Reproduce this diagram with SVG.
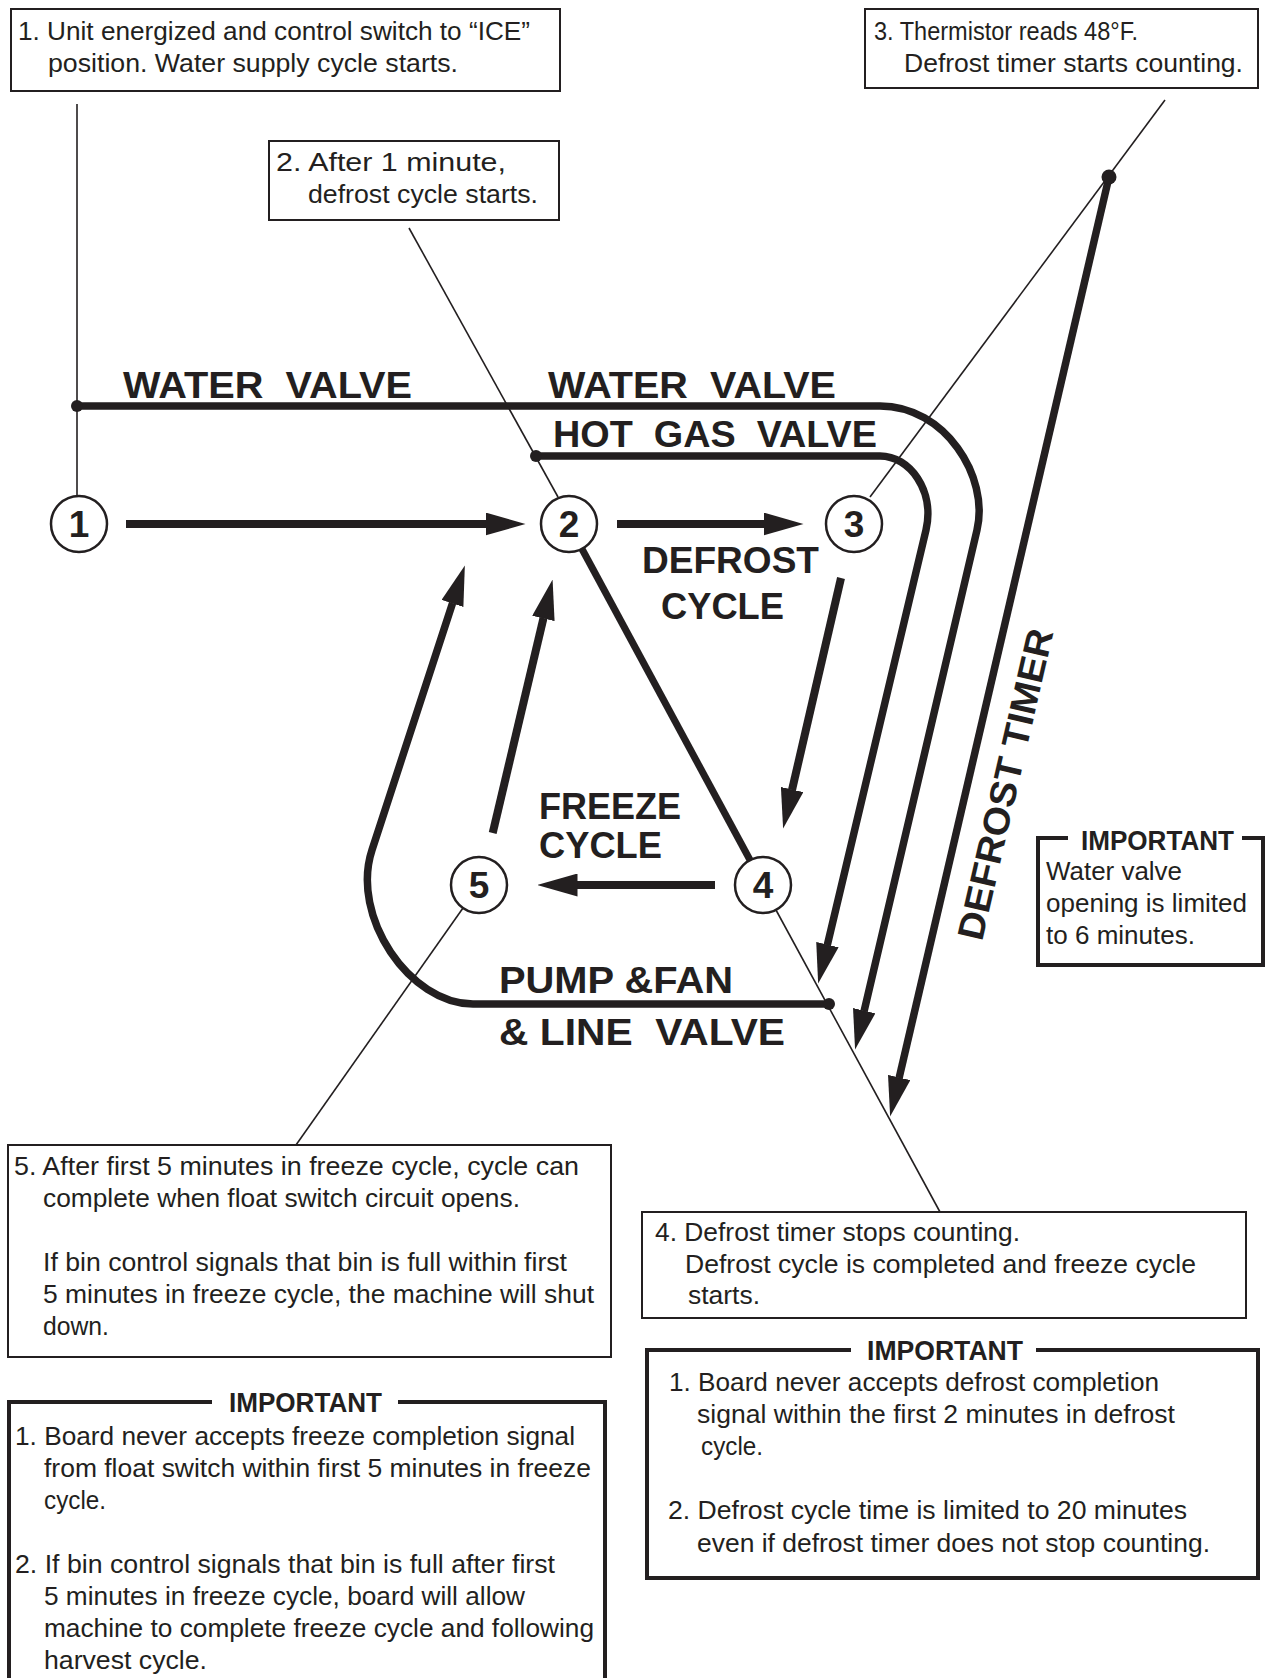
<svg xmlns="http://www.w3.org/2000/svg" width="1267" height="1678" viewBox="0 0 1267 1678">
<style>
.bg{fill:#ffffff}
.box{fill:#ffffff;stroke:#231f20;stroke-width:2}
.imp{fill:none;stroke:#231f20;stroke-width:4}
.t{font-family:"Liberation Sans",Arial,sans-serif;font-size:25px;fill:#231f20}
.b{font-family:"Liberation Sans",Arial,sans-serif;font-weight:bold;font-size:37px;fill:#231f20}
.h{font-family:"Liberation Sans",Arial,sans-serif;font-weight:bold;font-size:27px;fill:#231f20}
.num{font-family:"Liberation Sans",Arial,sans-serif;font-weight:bold;font-size:37px;fill:#231f20;text-anchor:middle}
.circ{fill:#ffffff;stroke:#231f20;stroke-width:2.5}
.thin{fill:none;stroke:#231f20;stroke-width:1.6}
.arr{fill:none;stroke:#231f20;stroke-width:8;marker-end:url(#ah)}
.arrl{fill:none;stroke:#231f20;stroke-width:7.5;marker-end:url(#ah)}
.dot{fill:#231f20}
</style>
<defs>
<marker id="ah" viewBox="0 0 40 23" refX="0.5" refY="11.5" markerWidth="40" markerHeight="23" markerUnits="userSpaceOnUse" orient="auto">
<path d="M0,0 L40,11.5 L0,23 Z" fill="#231f20"/>
</marker>
</defs>
<rect class="bg" x="0" y="0" width="1267" height="1678"/>

<g id="connectors">
<line class="thin" x1="77" y1="104" x2="77" y2="496"/>
<line class="thin" x1="409" y1="228" x2="558" y2="497"/>
<line class="thin" x1="1165" y1="100" x2="870" y2="497"/>
<line class="thin" x1="776" y1="910" x2="940" y2="1212"/>
<line class="thin" x1="463" y1="908" x2="296" y2="1145"/>
<path class="arrl" d="M77,406 H880 C945,406 989.6,476.5 977,530 L864.1,1011.1"/>
<path class="arrl" d="M536,456 H880 C910,456 935,491 926,530 L827.3,945.1"/>
<path class="arrl" d="M1109,177 L899.1,1078"/>
<path class="arrl" d="M829,1004 H473 C410,1004 350,917 372,850 L452.6,603"/>
<path class="arr" d="M126,524 L486,524"/>
<path class="arr" d="M617,524 L764,524"/>
<path class="arr" d="M841,578 L792,790"/>
<path class="arr" d="M715,885 L577,885"/>
<path class="arr" d="M492.7,833 L543.5,618"/>
<line x1="582" y1="549" x2="750" y2="860" stroke="#231f20" stroke-width="7"/>
<circle class="dot" cx="77" cy="406" r="6"/>
<circle class="dot" cx="536" cy="456" r="6"/>
<circle class="dot" cx="1109" cy="177" r="7.5"/>
<circle class="dot" cx="829" cy="1004" r="6"/>
</g>

<g id="labels">
<text class="b" x="123" y="398" textLength="289" lengthAdjust="spacingAndGlyphs" xml:space="preserve">WATER  VALVE</text>
<text class="b" x="548" y="398" textLength="288" lengthAdjust="spacingAndGlyphs" xml:space="preserve">WATER  VALVE</text>
<text class="b" x="553" y="447" textLength="324" lengthAdjust="spacingAndGlyphs" xml:space="preserve">HOT  GAS  VALVE</text>
<text class="b" x="642" y="573" textLength="177" lengthAdjust="spacingAndGlyphs">DEFROST</text>
<text class="b" x="661" y="619" textLength="123" lengthAdjust="spacingAndGlyphs">CYCLE</text>
<text class="b" x="539" y="819" textLength="142" lengthAdjust="spacingAndGlyphs">FREEZE</text>
<text class="b" x="539" y="858" textLength="123" lengthAdjust="spacingAndGlyphs">CYCLE</text>
<text class="b" x="499" y="993" textLength="234" lengthAdjust="spacingAndGlyphs" xml:space="preserve">PUMP &amp;FAN</text>
<text class="b" x="499" y="1045" textLength="286" lengthAdjust="spacingAndGlyphs" xml:space="preserve">&amp; LINE  VALVE</text>
<text class="b" transform="translate(982,942) rotate(-77)" x="0" y="0" textLength="318" lengthAdjust="spacingAndGlyphs">DEFROST TIMER</text>
</g>

<g id="node1">
<circle class="circ" cx="79" cy="524" r="28"/>
<text class="num" x="79" y="537">1</text>
</g>
<g id="node2">
<circle class="circ" cx="569" cy="524" r="28"/>
<text class="num" x="569" y="537">2</text>
</g>
<g id="node3">
<circle class="circ" cx="854" cy="524" r="28"/>
<text class="num" x="854" y="537">3</text>
</g>
<g id="node4">
<circle class="circ" cx="763" cy="885" r="28"/>
<text class="num" x="763" y="898">4</text>
</g>
<g id="node5">
<circle class="circ" cx="479" cy="885" r="28"/>
<text class="num" x="479" y="898">5</text>
</g>

<g id="note1">
<rect class="box" x="11" y="9" width="549" height="82"/>
<text class="t" x="18" y="40" textLength="512" lengthAdjust="spacingAndGlyphs">1. Unit energized and control switch to “ICE”</text>
<text class="t" x="48" y="72" textLength="410" lengthAdjust="spacingAndGlyphs">position. Water supply cycle starts.</text>
</g>

<g id="note2">
<rect class="box" x="269" y="141" width="290" height="79"/>
<text class="t" x="276" y="171" textLength="230" lengthAdjust="spacingAndGlyphs">2. After 1 minute,</text>
<text class="t" x="308" y="203" textLength="230" lengthAdjust="spacingAndGlyphs">defrost cycle starts.</text>
</g>

<g id="note3">
<rect class="box" x="865" y="9" width="393" height="79"/>
<text class="t" x="874" y="40" textLength="264" lengthAdjust="spacingAndGlyphs">3. Thermistor reads 48°F.</text>
<text class="t" x="904" y="72" textLength="339" lengthAdjust="spacingAndGlyphs">Defrost timer starts counting.</text>
</g>

<g id="note4">
<rect class="box" x="642" y="1212" width="604" height="106"/>
<text class="t" x="655" y="1241" textLength="365" lengthAdjust="spacingAndGlyphs">4. Defrost timer stops counting.</text>
<text class="t" x="685" y="1273" textLength="511" lengthAdjust="spacingAndGlyphs">Defrost cycle is completed and freeze cycle</text>
<text class="t" x="688" y="1304" textLength="72" lengthAdjust="spacingAndGlyphs">starts.</text>
</g>

<g id="note5">
<rect class="box" x="8" y="1145" width="603" height="212"/>
<text class="t" x="14" y="1175" textLength="565" lengthAdjust="spacingAndGlyphs">5. After first 5 minutes in freeze cycle, cycle can</text>
<text class="t" x="43" y="1207" textLength="477" lengthAdjust="spacingAndGlyphs">complete when float switch circuit opens.</text>
<text class="t" x="43" y="1271" textLength="524" lengthAdjust="spacingAndGlyphs">If bin control signals that bin is full within first</text>
<text class="t" x="43" y="1303" textLength="551" lengthAdjust="spacingAndGlyphs">5 minutes in freeze cycle, the machine will shut</text>
<text class="t" x="43" y="1335" textLength="66" lengthAdjust="spacingAndGlyphs">down.</text>
</g>

<g id="important-water">
<path class="imp" d="M1068,838 H1038 V965 H1263 V838 H1242"/>
<text class="h" x="1081" y="850" textLength="153" lengthAdjust="spacingAndGlyphs">IMPORTANT</text>
<text class="t" x="1046" y="880" textLength="136" lengthAdjust="spacingAndGlyphs">Water valve</text>
<text class="t" x="1046" y="912" textLength="201" lengthAdjust="spacingAndGlyphs">opening is limited</text>
<text class="t" x="1046" y="944" textLength="149" lengthAdjust="spacingAndGlyphs">to 6 minutes.</text>
</g>

<g id="important-defrost">
<path class="imp" d="M851,1350 H647 V1578 H1258 V1350 H1036"/>
<text class="h" x="867" y="1360" textLength="156" lengthAdjust="spacingAndGlyphs">IMPORTANT</text>
<text class="t" x="669" y="1391" textLength="490" lengthAdjust="spacingAndGlyphs">1. Board never accepts defrost completion</text>
<text class="t" x="697" y="1423" textLength="478" lengthAdjust="spacingAndGlyphs">signal within the first 2 minutes in defrost</text>
<text class="t" x="701" y="1455" textLength="62" lengthAdjust="spacingAndGlyphs">cycle.</text>
<text class="t" x="668" y="1519" textLength="519" lengthAdjust="spacingAndGlyphs">2. Defrost cycle time is limited to 20 minutes</text>
<text class="t" x="697" y="1552" textLength="513" lengthAdjust="spacingAndGlyphs">even if defrost timer does not stop counting.</text>
</g>

<g id="important-freeze">
<path class="imp" d="M212,1402 H9 V1690 M605,1690 V1402 H398"/>
<text class="h" x="229" y="1412" textLength="153" lengthAdjust="spacingAndGlyphs">IMPORTANT</text>
<text class="t" x="15" y="1445" textLength="560" lengthAdjust="spacingAndGlyphs">1. Board never accepts freeze completion signal</text>
<text class="t" x="44" y="1477" textLength="547" lengthAdjust="spacingAndGlyphs">from float switch within first 5 minutes in freeze</text>
<text class="t" x="44" y="1509" textLength="62" lengthAdjust="spacingAndGlyphs">cycle.</text>
<text class="t" x="15" y="1573" textLength="540" lengthAdjust="spacingAndGlyphs">2. If bin control signals that bin is full after first</text>
<text class="t" x="44" y="1605" textLength="481" lengthAdjust="spacingAndGlyphs">5 minutes in freeze cycle, board will allow</text>
<text class="t" x="44" y="1637" textLength="550" lengthAdjust="spacingAndGlyphs">machine to complete freeze cycle and following</text>
<text class="t" x="44" y="1669" textLength="163" lengthAdjust="spacingAndGlyphs">harvest cycle.</text>
</g>
</svg>
